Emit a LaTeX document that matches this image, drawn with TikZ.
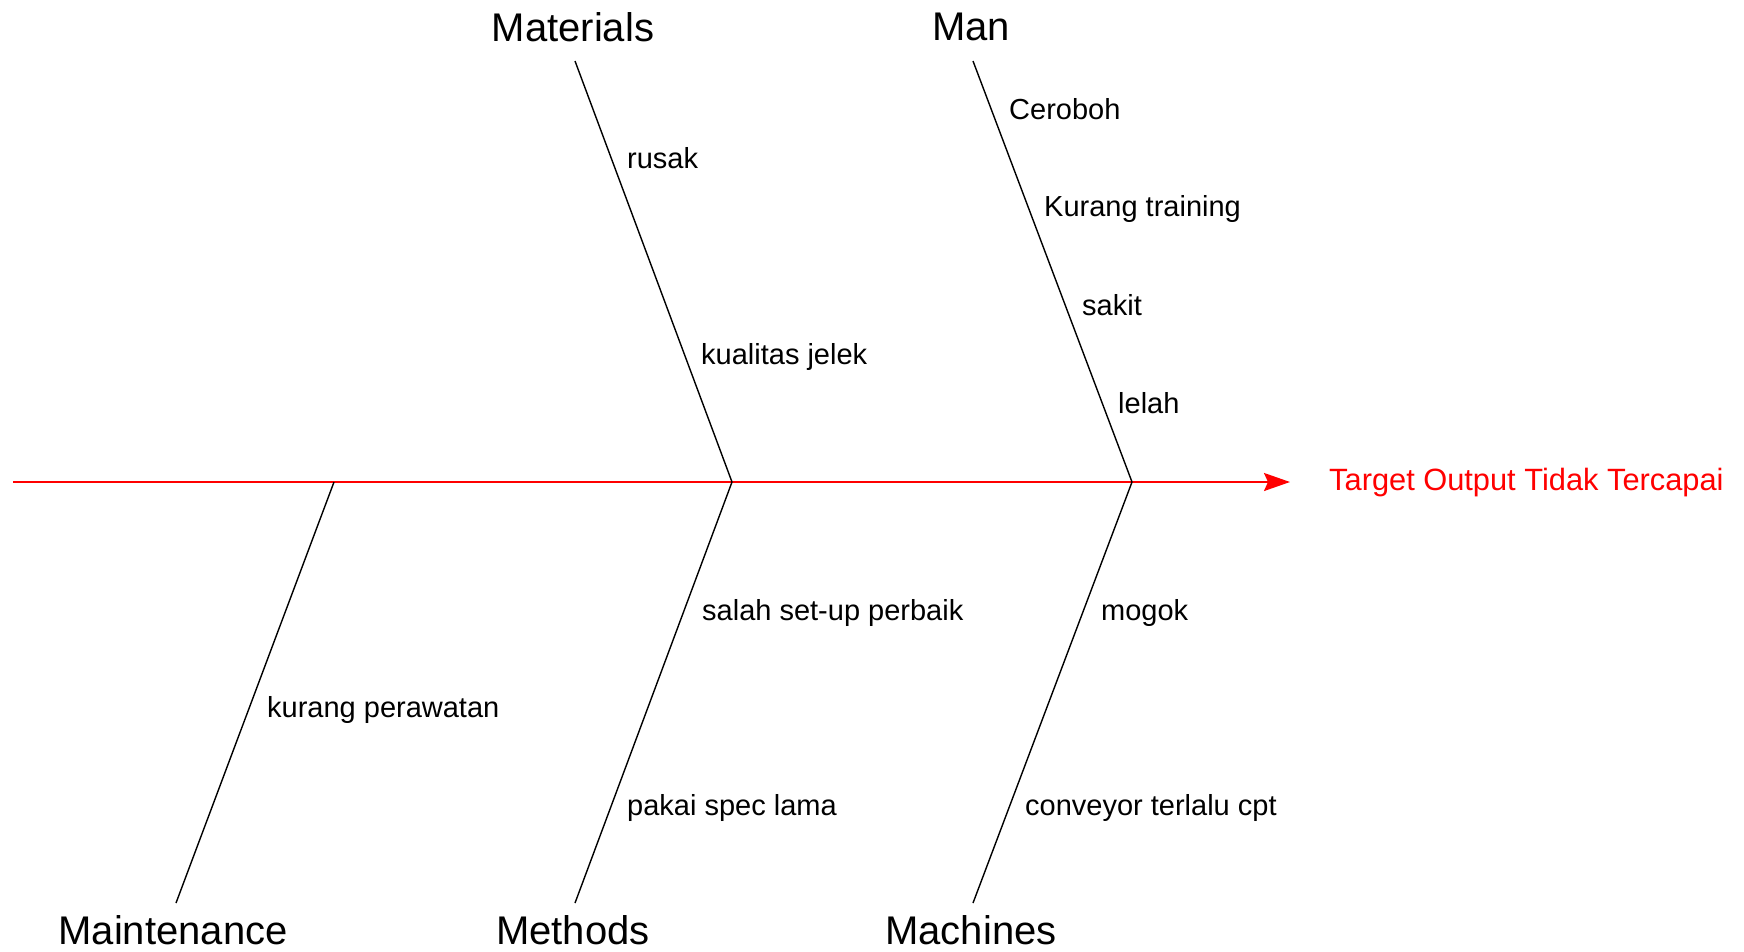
\documentclass[tikz,border=0pt]{standalone}
\usepackage{fontspec}
\setmainfont{Liberation Sans}
\usetikzlibrary{arrows.meta}
\begin{document}
\begin{tikzpicture}[x=1pt,y=-1pt,
  cat/.style={font=\fontsize{40}{44}\selectfont, inner sep=0pt, anchor=center},
  cause/.style={font=\fontsize{29}{32}\selectfont, inner sep=0pt, anchor=west},
  bone/.style={black, line width=1.4pt},
  spine/.style={red, line width=2pt, -{Stealth[length=26pt,width=18pt,inset=4pt]}}]
\useasboundingbox (0,0) rectangle (1744,951);
% spine
\coordinate (s0) at (13,482);
\node[font=\fontsize{30.8}{34}\selectfont, text=red, inner sep=0pt, anchor=west] (tgt) at (1329,483) {Target Output Tidak Tercapai};
\draw[spine, shorten >=39pt] (s0) -- (s0 -| tgt.west);
% junctions
\coordinate (j1) at (334,482);
\coordinate (j2) at (732,482);
\coordinate (j3) at (1132,482);
% branch ends
\coordinate (mat) at (575,61);
\coordinate (man) at (973,61);
\coordinate (mnt) at (176,903);
\coordinate (met) at (575,903);
\coordinate (mac) at (973,903);
\draw[bone] (mat) -- (j2);
\draw[bone] (man) -- (j3);
\draw[bone] (j1) -- (mnt);
\draw[bone] (j2) -- (met);
\draw[bone] (j3) -- (mac);
% category labels
\node[cat] (lmat) at (573,27) {Materials};
\node[cat] (lman) at (971,27) {Man};
\node[cat] (lmnt) at (173,930) {Maintenance};
\node[cat] (lmet) at (573,930) {Methods};
\node[cat] (lmac) at (971,930) {Machines};
% causes
\node[cause] (c1) at (627,158) {rusak};
\node[cause] (c2) at (701,357) {kualitas jelek};
\node[cause] (c3) at (1009,109) {Ceroboh};
\node[cause] (c4) at (1044,209) {Kurang training};
\node[cause] (c5) at (1082,305) {sakit};
\node[cause] (c6) at (1118,403) {lelah};
\node[cause] (c7) at (1101,613) {mogok};
\node[cause] (c8) at (1025,808) {conveyor terlalu cpt};
\node[cause] (c9) at (702,613) {salah set-up perbaik};
\node[cause] (c10) at (627,808) {pakai spec lama};
\node[cause] (c11) at (267,710) {kurang perawatan};
\end{tikzpicture}
\end{document}
